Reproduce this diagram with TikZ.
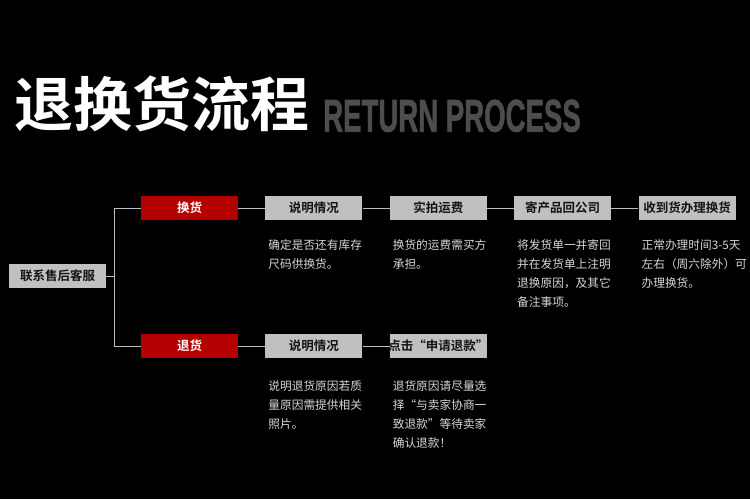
\documentclass[tikz,border=0pt]{standalone}
\usepackage{fontspec}
\usepackage{graphicx}
\usetikzlibrary{positioning}
\setmainfont{Noto Sans CJK SC}
\newfontfamily\cjk{Noto Sans CJK SC}
\newfontfamily\cjkbold{Noto Sans CJK SC Bold}
\newfontfamily\retfont{Liberation Sans Bold}[FakeBold=1.5]
\definecolor{boxgrey}{RGB}{192,192,192}
\definecolor{boxred}{RGB}{181,0,0}
\definecolor{boxtext}{RGB}{20,20,20}
\definecolor{linegrey}{RGB}{190,190,190}
\definecolor{desctext}{RGB}{215,215,215}
\definecolor{titlegrey}{RGB}{77,77,77}
\begin{document}
\begin{tikzpicture}[x=1pt,y=-1pt,
	greybox/.style={fill=boxgrey,text=boxtext,font=\cjkbold\fontsize{12.5}{14}\selectfont,minimum width=97pt,minimum height=24pt,inner sep=0pt},
	redbox/.style={greybox,fill=boxred,text=white},
	desc/.style={text=desctext,font=\cjk\fontsize{11.7}{19}\selectfont,align=left,inner sep=0pt,anchor=north west},
	link/.style={draw=linegrey,line width=1pt}]
		\fill[black] (0,0) rectangle (750,499);
		\node[anchor=west,inner sep=0pt,text=white,font=\cjkbold\fontsize{59}{59}\selectfont] (title) at (14,104) {退换货流程};
		\node[anchor=base west,inner sep=0pt,text=titlegrey] (subtitle) at (323,131.7) {\scalebox{0.6}[1]{\retfont\fontsize{46}{46}\selectfont RETURN PROCESS}};
		
		\node[greybox] (service) at (57.5,276) {联系售后客服};
		\node[redbox] (swap) at (189.5,208) {换货};
		\node[redbox] (refund) at (189.5,346) {退货};
		
		\node[greybox,right=27pt of swap] (s1) {说明情况};
		\node[greybox,right=27pt of s1] (s2) {实拍运费};
		\node[greybox,right=27pt of s2] (s3) {寄产品回公司};
		\node[greybox,right=27pt of s3] (s4) {收到货办理换货};
		\node[greybox,right=27pt of refund] (r1) {说明情况};
		\node[greybox,right=27pt of r1] (r2) {\makebox[97pt]{点击“申请退款”}};
		
		\coordinate (fork) at ([xshift=8pt]service.east);
		\draw[link] (service.east)--(fork) (fork)|-(swap.west) (fork)|-(refund.west);
		\draw[link] (swap)--(s1)--(s2)--(s3)--(s4);
		\draw[link] (refund)--(r1)--(r2);
		
		\node[desc] (d1) at ([shift={(3,19.5)}]s1.south west) {确定是否还有库存\\尺码供换货。};
		\node[desc] (d2) at ([shift={(3,19.5)}]s2.south west) {换货的运费需买方\\承担。};
		\node[desc] (d3) at ([shift={(3,19.5)}]s3.south west) {将发货单一并寄回\\并在发货单上注明\\退换原因，及其它\\备注事项。};
		\node[desc] (d4) at ([shift={(3,19.5)}]s4.south west) {正常办理时间3-5天\\左右（周六除外）可\\办理换货。};
		\node[desc] (e1) at ([shift={(3,22)}]r1.south west) {说明退货原因若质\\量原因需提供相关\\照片。};
		\node[desc] (e2) at ([shift={(3,22)}]r2.south west) {退货原因请尽量选\\择“与卖家协商一\\致退款”等待卖家\\确认退款！};
\end{tikzpicture}
\end{document}
